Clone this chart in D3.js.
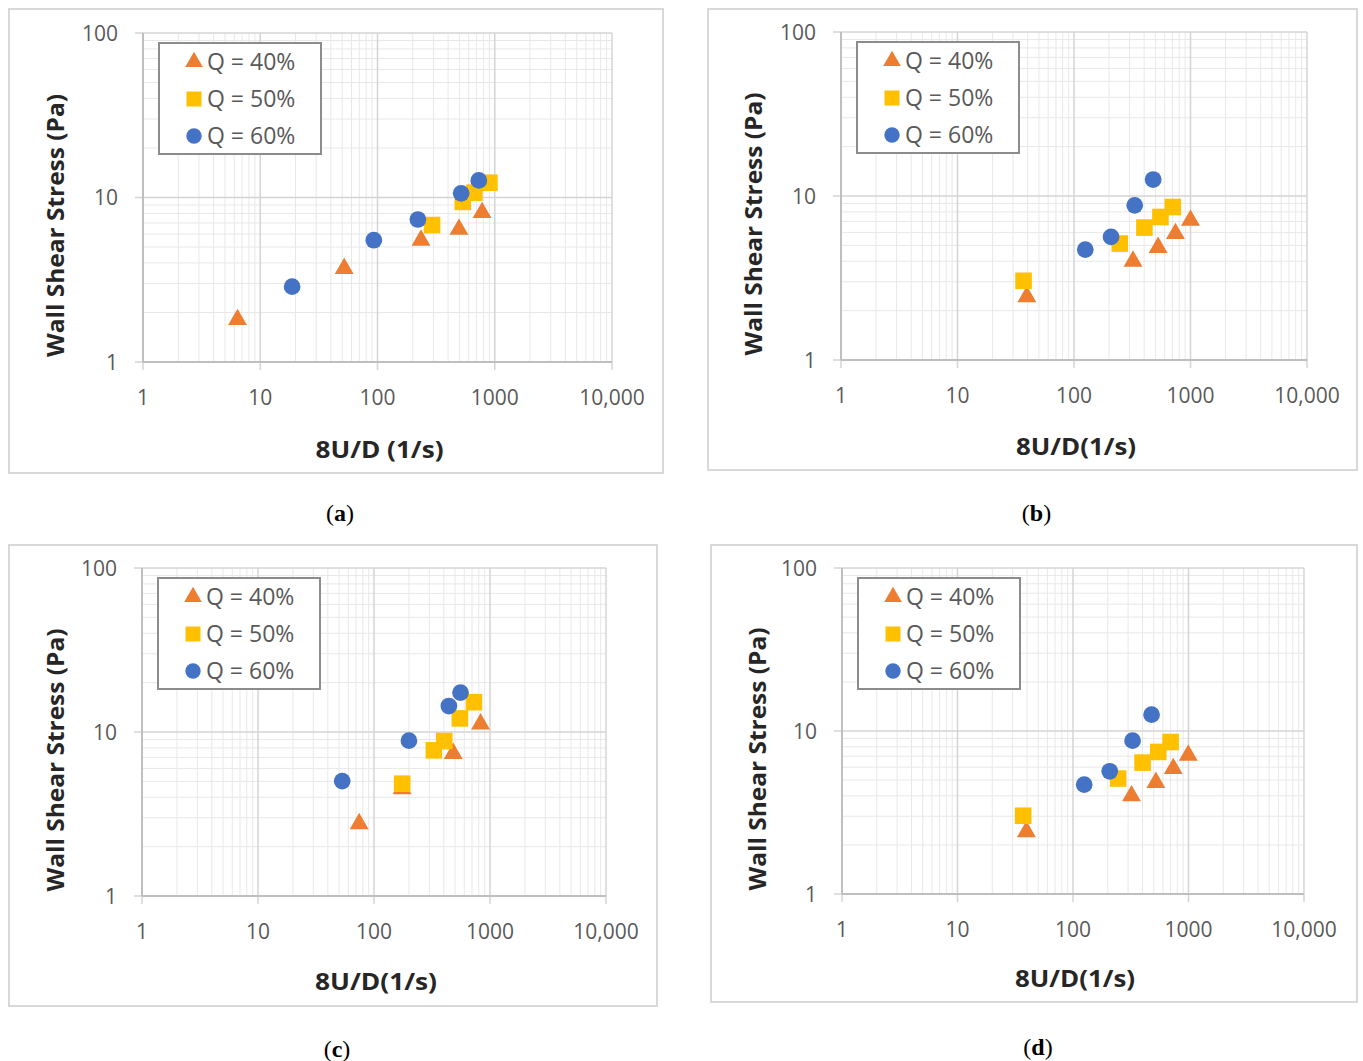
<!DOCTYPE html>
<html>
<head>
<meta charset="utf-8">
<script src="https://cdn.jsdelivr.net/npm/d3@7"></script>
<style>
  body { margin: 0; background: #fff; }
  svg { display: block; }
</style>
</head>
<body>
<div id="fig"></div>
<script>
var xTicks = [1, 10, 100, 1000, 10000];
var xTickLabels = ["1", "10", "100", "1000", "10,000"];
var yTicks = [1, 10, 100];
var yTickLabels = ["1", "10", "100"];
var seriesNames = ["Q = 40%", "Q = 50%", "Q = 60%"];
var seriesColors = ["#ED7D31", "#FFC000", "#4472C4"];
var seriesShapes = [d3.symbolTriangle, d3.symbolSquare, d3.symbolCircle];

// (a)  [8U/D, wall shear stress]
var a40 = [[6.4, 1.81], [52, 3.7], [235, 5.5], [495, 6.4], [780, 8.1]];
var a50 = [[292, 6.8], [534, 9.4], [670, 10.7], [900, 12.3]];
var a60 = [[18.7, 2.87], [93, 5.5], [221, 7.35], [517, 10.6], [731, 12.7]];
// (b)
var b40 = [[39.4, 2.43], [321, 4.0], [527, 4.85], [743, 5.9], [1000, 7.1]];
var b50 = [[36.9, 3.04], [247, 5.13], [402, 6.42], [552, 7.45], [705, 8.57]];
var b60 = [[125, 4.71], [208, 5.63], [332, 8.77], [478, 12.6]];
// (c)
var c40 = [[74.5, 2.76], [175, 4.5], [482, 7.4], [829, 11.2]];
var c50 = [[175, 4.84], [328, 7.73], [403, 8.81], [550, 12.1], [727, 15.2]];
var c60 = [[53.2, 5.02], [200, 8.85], [442, 14.4], [557, 17.4]];
// (d)
var d40 = [[39.5, 2.41], [321, 4.0], [522, 4.83], [738, 5.88], [995, 7.1]];
var d50 = [[37, 3.02], [246, 5.11], [400, 6.4], [547, 7.44], [700, 8.56]];
var d60 = [[125, 4.69], [208, 5.66], [328, 8.72], [479, 12.6]];

var panels = [
  { caption: "a", series: [a40, a50, a60], xTitle: "8U/D (1/s)", xTitleW: 128,
    frame: [9, 9, 663, 473], plot: [143, 33, 612, 362], yTitleX: 56, xTitleY: 458, capY: 521 },
  { caption: "b", series: [b40, b50, b60], xTitle: "8U/D(1/s)", xTitleW: 120,
    frame: [708, 9, 1357, 470], plot: [841, 32, 1307, 360], yTitleX: 754, xTitleY: 455, capY: 521 },
  { caption: "c", series: [c40, c50, c60], xTitle: "8U/D(1/s)", xTitleW: 122,
    frame: [9, 545, 657, 1006], plot: [142, 568, 606, 896], yTitleX: 56, xTitleY: 990, capY: 1057 },
  { caption: "d", series: [d40, d50, d60], xTitle: "8U/D(1/s)", xTitleW: 120,
    frame: [711, 545, 1357, 1002], plot: [842, 568, 1304, 894], yTitleX: 758, xTitleY: 987, capY: 1055 }
];

var width = 1363, height = 1061;
var svg = d3.select("#fig").append("svg")
  .attr("width", width)
  .attr("height", height);

var font = "'Open Sans', 'Liberation Sans', sans-serif";

panels.forEach(function (p) {
  var g = svg.append("g");
  var x0 = p.plot[0], y0 = p.plot[1], x1 = p.plot[2], y1 = p.plot[3];

  var x = d3.scaleLog().domain([1, 10000]).range([x0, x1]);
  var y = d3.scaleLog().domain([1, 100]).range([y1, y0]);

  // outer frame
  g.append("rect")
    .attr("x", p.frame[0]).attr("y", p.frame[1])
    .attr("width", p.frame[2] - p.frame[0])
    .attr("height", p.frame[3] - p.frame[1])
    .attr("fill", "#fff")
    .attr("stroke", "#d9d9d9")
    .attr("stroke-width", 2);

  var isMajor = function (v) { return Math.abs(Math.log10(v) - Math.round(Math.log10(v))) < 1e-9; };

  // minor grid
  g.append("g").selectAll("line")
    .data(x.ticks().filter(function (v) { return !isMajor(v); }))
    .join("line")
    .attr("x1", function (d) { return x(d); }).attr("x2", function (d) { return x(d); })
    .attr("y1", y0).attr("y2", y1)
    .attr("stroke", "#e8e8e8").attr("stroke-width", 1);
  g.append("g").selectAll("line")
    .data(y.ticks().filter(function (v) { return !isMajor(v); }))
    .join("line")
    .attr("y1", function (d) { return y(d); }).attr("y2", function (d) { return y(d); })
    .attr("x1", x0).attr("x2", x1)
    .attr("stroke", "#e8e8e8").attr("stroke-width", 1);

  // major grid
  g.append("g").selectAll("line")
    .data(xTicks)
    .join("line")
    .attr("x1", function (d) { return x(d); }).attr("x2", function (d) { return x(d); })
    .attr("y1", y0).attr("y2", y1 + 8)
    .attr("stroke", "#d4d4d4").attr("stroke-width", 1.5);
  g.append("g").selectAll("line")
    .data(yTicks)
    .join("line")
    .attr("y1", function (d) { return y(d); }).attr("y2", function (d) { return y(d); })
    .attr("x1", x0 - 8).attr("x2", x1)
    .attr("stroke", "#d4d4d4").attr("stroke-width", 1.5);

  // axis lines
  g.append("line").attr("x1", x0).attr("x2", x1).attr("y1", y1).attr("y2", y1)
    .attr("stroke", "#bfbfbf").attr("stroke-width", 2);
  g.append("line").attr("x1", x0).attr("x2", x0).attr("y1", y0).attr("y2", y1)
    .attr("stroke", "#bfbfbf").attr("stroke-width", 2);

  // tick labels
  g.append("g").selectAll("text")
    .data(xTicks)
    .join("text")
    .attr("x", function (d) { return x(d); })
    .attr("y", y1 + 43)
    .attr("text-anchor", "middle")
    .style("font-family", font).style("font-size", "21px").style("fill", "#595959")
    .text(function (d, i) { return xTickLabels[i]; });
  g.append("g").selectAll("text")
    .data(yTicks)
    .join("text")
    .attr("x", x0 - 25)
    .attr("y", function (d) { return y(d); })
    .attr("dy", "0.36em")
    .attr("text-anchor", "end")
    .style("font-family", font).style("font-size", "21px").style("fill", "#595959")
    .text(function (d, i) { return yTickLabels[i]; });

  // axis titles
  g.append("text")
    .attr("x", (x0 + x1) / 2 + 2)
    .attr("y", p.xTitleY)
    .attr("text-anchor", "middle")
    .attr("textLength", p.xTitleW)
    .attr("lengthAdjust", "spacingAndGlyphs")
    .style("font-family", font).style("font-size", "23px").style("font-weight", "700")
    .style("fill", "#262626")
    .text(p.xTitle);
  g.append("text")
    .attr("transform", "translate(" + p.yTitleX + "," + ((y0 + y1) / 2 + 28) + ") rotate(-90)")
    .attr("dy", "0.36em")
    .attr("text-anchor", "middle")
    .attr("textLength", 263)
    .attr("lengthAdjust", "spacingAndGlyphs")
    .style("font-family", font).style("font-size", "23px").style("font-weight", "700")
    .style("fill", "#262626")
    .text("Wall Shear Stress (Pa)");

  // points: triangles, then squares, then circles on top
  p.series.forEach(function (pts, i) {
    var sym = d3.symbol().type(seriesShapes[i])
      .size(i === 0 ? 155 : i === 1 ? 275 : 220);
    g.append("g").selectAll("path")
      .data(pts)
      .join("path")
      .attr("transform", function (d) { return "translate(" + x(d[0]) + "," + y(d[1]) + ")"; })
      .attr("d", sym)
      .attr("fill", seriesColors[i]);
  });

  // legend
  var lx = x0 + 16, ly = y0 + 10;
  var leg = g.append("g").attr("transform", "translate(" + lx + "," + ly + ")");
  leg.append("rect")
    .attr("width", 162).attr("height", 111)
    .attr("fill", "#fff")
    .attr("stroke", "#8c8c8c").attr("stroke-width", 2);
  seriesNames.forEach(function (name, i) {
    var ry = 19 + i * 37;
    leg.append("path")
      .attr("transform", "translate(35," + ry + ")")
      .attr("d", d3.symbol().type(seriesShapes[i]).size(i === 0 ? 135 : i === 1 ? 225 : 185))
      .attr("fill", seriesColors[i]);
    leg.append("text")
      .attr("x", 48).attr("y", ry)
      .attr("dy", "0.36em")
      .style("font-family", font).style("font-size", "23px").style("fill", "#595959")
      .text(name);
  });

  // caption
  var cap = svg.append("text")
    .attr("x", (p.frame[0] + p.frame[2]) / 2 + 4)
    .attr("y", p.capY)
    .attr("text-anchor", "middle")
    .style("font-family", "'Liberation Serif', 'DejaVu Serif', serif")
    .style("font-size", "24px").style("fill", "#000");
  cap.append("tspan").text("(");
  cap.append("tspan").style("font-weight", "700").text(p.caption);
  cap.append("tspan").text(")");
});
</script>
</body>
</html>
